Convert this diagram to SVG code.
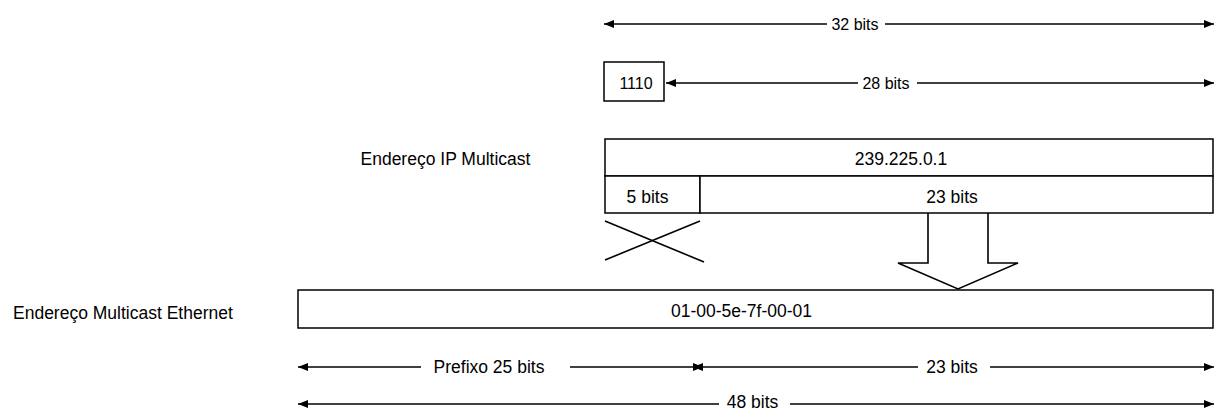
<svg xmlns="http://www.w3.org/2000/svg" width="1216" height="411" viewBox="0 0 1216 411">
<style>
text{font-family:"Liberation Sans",Arial,sans-serif;font-size:17.5px;fill:#000}
.c{text-anchor:middle}
.s{font-size:16px}
.box{fill:#fff;stroke:#000;stroke-width:1.5}
.ln{fill:none;stroke:#000;stroke-width:1.6}
</style>
<defs>
<marker id="ah" viewBox="0 0 10 8" refX="10" refY="4" markerWidth="10" markerHeight="8" markerUnits="userSpaceOnUse" orient="auto-start-reverse">
<path d="M0,0 L10,4 L0,8 Z" fill="#000"/>
</marker>
</defs>
<rect width="1216" height="411" fill="#fff"/>
<g id="labels">
<text x="360.5" y="165">Endereço IP Multicast</text>
<text x="13" y="319">Endereço Multicast Ethernet</text>
</g>
<g id="prefix1110">
<rect class="box" x="604" y="62" width="60" height="39"/>
<text class="c s" x="636" y="88.5">1110</text>
</g>
<g id="ipaddr">
<rect class="box" x="605" y="139" width="608" height="37"/>
<text class="c" x="901" y="165">239.225.0.1</text>
</g>
<g id="bits5">
<rect class="box" x="605" y="176" width="95" height="37"/>
<text class="c" x="647.5" y="203">5 bits</text>
</g>
<g id="bits23">
<rect class="box" x="700" y="176" width="513" height="37"/>
<text class="c" x="952" y="203">23 bits</text>
</g>
<g id="cross">
<line class="ln" x1="605" y1="260" x2="700" y2="221"/>
<line class="ln" x1="605" y1="221" x2="704" y2="262"/>
</g>
<g id="mac">
<rect class="box" x="298" y="290" width="915" height="38"/>
<text class="c" x="741.5" y="316.5">01-00-5e-7f-00-01</text>
</g>
<g id="maparrow">
<path class="ln" fill="#fff" d="M928,213 L928,263 L898,263 L958,289 L1018,263 L988,263 L988,213"/>
</g>
<g id="connectors">
<line class="ln" x1="604" y1="24" x2="827" y2="24" marker-start="url(#ah)"/>
<line class="ln" x1="885" y1="24" x2="1214" y2="24" marker-end="url(#ah)"/>
<text class="c s" x="855" y="30">32 bits</text>
<line class="ln" x1="666" y1="83" x2="858" y2="83" marker-start="url(#ah)"/>
<line class="ln" x1="917" y1="83" x2="1214" y2="83" marker-end="url(#ah)"/>
<text class="c s" x="886" y="89">28 bits</text>
<line class="ln" x1="298" y1="367" x2="421" y2="367" marker-start="url(#ah)"/>
<line class="ln" x1="570" y1="367" x2="703" y2="367" marker-end="url(#ah)"/>
<text class="c" x="489" y="373">Prefixo 25 bits</text>
<line class="ln" x1="693" y1="367" x2="918" y2="367" marker-start="url(#ah)"/>
<line class="ln" x1="990" y1="367" x2="1214" y2="367" marker-end="url(#ah)"/>
<text class="c" x="952" y="373">23 bits</text>
<line class="ln" x1="298" y1="404" x2="719" y2="404" marker-start="url(#ah)"/>
<line class="ln" x1="790" y1="404" x2="1214" y2="404" marker-end="url(#ah)"/>
<text class="c" x="752.5" y="408">48 bits</text>
</g>
</svg>
